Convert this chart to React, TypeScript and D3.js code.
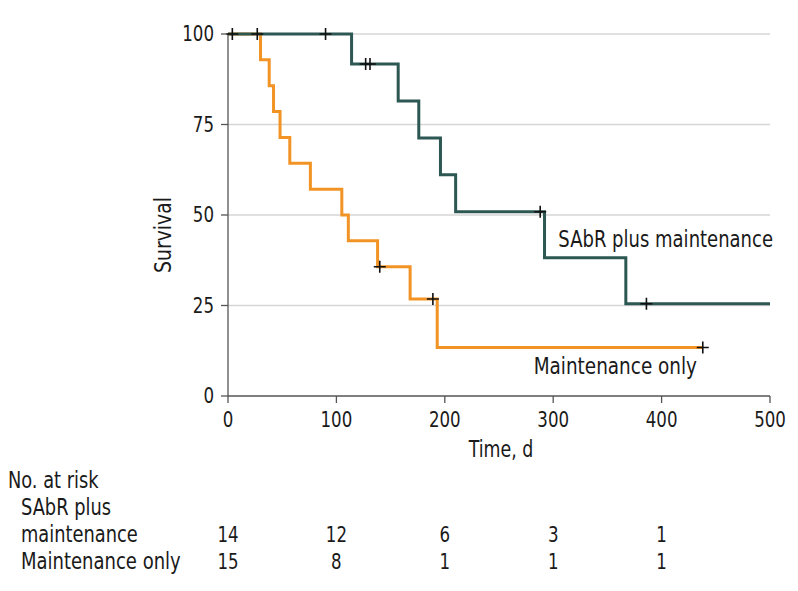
import * as d3 from 'd3'
import type { ReactNode } from 'react'

// Kaplan-Meier steps: [time, survival after the step]
const sabrSteps: [number, number][] = [
  [0, 100], [114, 91.7], [157, 81.5], [176, 71.3], [196, 61.1], [210, 50.9],
  [292, 38.2], [367, 25.5], [500, 25.5],
]
const sabrCensor: [number, number][] = [
  [4, 100], [90, 100], [127, 91.7], [131, 91.7], [288, 50.9], [386, 25.5],
]
const maintSteps: [number, number][] = [
  [0, 100], [30, 92.9], [38, 85.7], [42, 78.6], [48, 71.4], [57, 64.3], [76, 57.1],
  [105, 50], [111, 42.9], [138, 35.7], [168, 26.8], [193, 13.4], [438, 13.4],
]
const maintCensor: [number, number][] = [
  [27, 100], [140, 35.7], [189, 26.8], [438, 13.4],
]

const xTicks = [0, 100, 200, 300, 400, 500]
const yTicks = [0, 25, 50, 75, 100]
const riskTimes = [0, 100, 200, 300, 400]
const riskSabr = [14, 12, 6, 3, 1]
const riskMaint = [15, 8, 1, 1, 1]

const W = 798
const H = 591
const PLOT = { left: 228, right: 770, top: 34, bottom: 396 }
const FONT = '"DejaVu Sans Condensed", "DejaVu Sans", sans-serif'
const GREEN = '#2d5752'
const ORANGE = '#f29425'
const AXIS = '#555'
const INK = '#1a1a1a'
const LBL = 22.5 // label font size, squeezed to the reference's narrow face

// condensed text: squeeze horizontally around its anchor point
function T({ x, y, size = LBL, sx = 0.88, anchor = 'start', rotate = 0, children }: {
  x: number, y: number, size?: number, sx?: number, anchor?: string, rotate?: number, children: ReactNode
}) {
  return (
    <text transform={`translate(${x},${y}) rotate(${rotate}) scale(${sx},1)`}
      fontSize={size} textAnchor={anchor} fill={INK}>{children}</text>
  )
}

export default function App() {
  const x = d3.scaleLinear().domain([0, 500]).range([PLOT.left, PLOT.right])
  const y = d3.scaleLinear().domain([0, 100]).range([PLOT.bottom, PLOT.top])

  const step = d3.line<[number, number]>()
    .x(d => x(d[0]))
    .y(d => y(d[1]))
    .curve(d3.curveStepAfter)

  const cross = (d: [number, number], i: number) => {
    const cx = x(d[0]), cy = y(d[1])
    return (
      <path key={i} d={`M${cx - 6},${cy}H${cx + 6}M${cx},${cy - 6}V${cy + 6}`}
        stroke="#111" strokeWidth={1.6} fill="none" />
    )
  }

  return (
    <svg width={W} height={H} style={{ position: 'absolute', left: 0, top: 0 }}
      fontFamily={FONT}>
      <rect width={W} height={H} fill="#fff" />

      {/* grid */}
      {yTicks.filter(t => t > 0).map(t => (
        <line key={t} x1={PLOT.left} x2={PLOT.right} y1={y(t)} y2={y(t)}
          stroke="#d6d6d6" strokeWidth={1.5} />
      ))}

      {/* axes */}
      <line x1={PLOT.left} x2={PLOT.left} y1={PLOT.top} y2={PLOT.bottom} stroke={AXIS} strokeWidth={1.3} />
      <line x1={PLOT.left} x2={PLOT.right} y1={PLOT.bottom} y2={PLOT.bottom} stroke={AXIS} strokeWidth={1.3} />
      {yTicks.map(t => (
        <g key={t}>
          <line x1={PLOT.left - 7} x2={PLOT.left} y1={y(t)} y2={y(t)} stroke={AXIS} strokeWidth={1.3} />
          <T x={PLOT.left - 14} y={y(t) + 7} size={21} sx={0.88} anchor="end">{t}</T>
        </g>
      ))}
      {xTicks.map(t => (
        <g key={t}>
          <line x1={x(t)} x2={x(t)} y1={PLOT.bottom} y2={PLOT.bottom + 7} stroke={AXIS} strokeWidth={1.3} />
          <T x={x(t)} y={427} size={21} sx={0.88} anchor="middle">{t}</T>
        </g>
      ))}
      <T x={x(250) + 2} y={457} sx={0.86} anchor="middle">Time, d</T>
      <T x={171} y={235} sx={0.93} rotate={-90} anchor="middle">Survival</T>

      {/* curves */}
      <path d={step(maintSteps) ?? ''} fill="none" stroke={ORANGE} strokeWidth={3} />
      <path d={step(sabrSteps) ?? ''} fill="none" stroke={GREEN} strokeWidth={3} />
      {sabrCensor.map(cross)}
      {maintCensor.map((d, i) => cross(d, i + 100))}

      <T x={773} y={247} sx={0.89} anchor="end">SAbR plus maintenance</T>
      <T x={697} y={374} sx={0.91} anchor="end">Maintenance only</T>

      {/* risk table */}
      <T x={8} y={488}>No. at risk</T>
      <T x={21} y={515}>SAbR plus</T>
      <T x={21} y={542}>maintenance</T>
      <T x={21} y={569} sx={0.89}>Maintenance only</T>
      {riskTimes.map((t, i) => (
        <g key={t}>
          <T x={x(t)} y={542} size={21} sx={0.88} anchor="middle">{riskSabr[i]}</T>
          <T x={x(t)} y={569} size={21} sx={0.88} anchor="middle">{riskMaint[i]}</T>
        </g>
      ))}
    </svg>
  )
}
